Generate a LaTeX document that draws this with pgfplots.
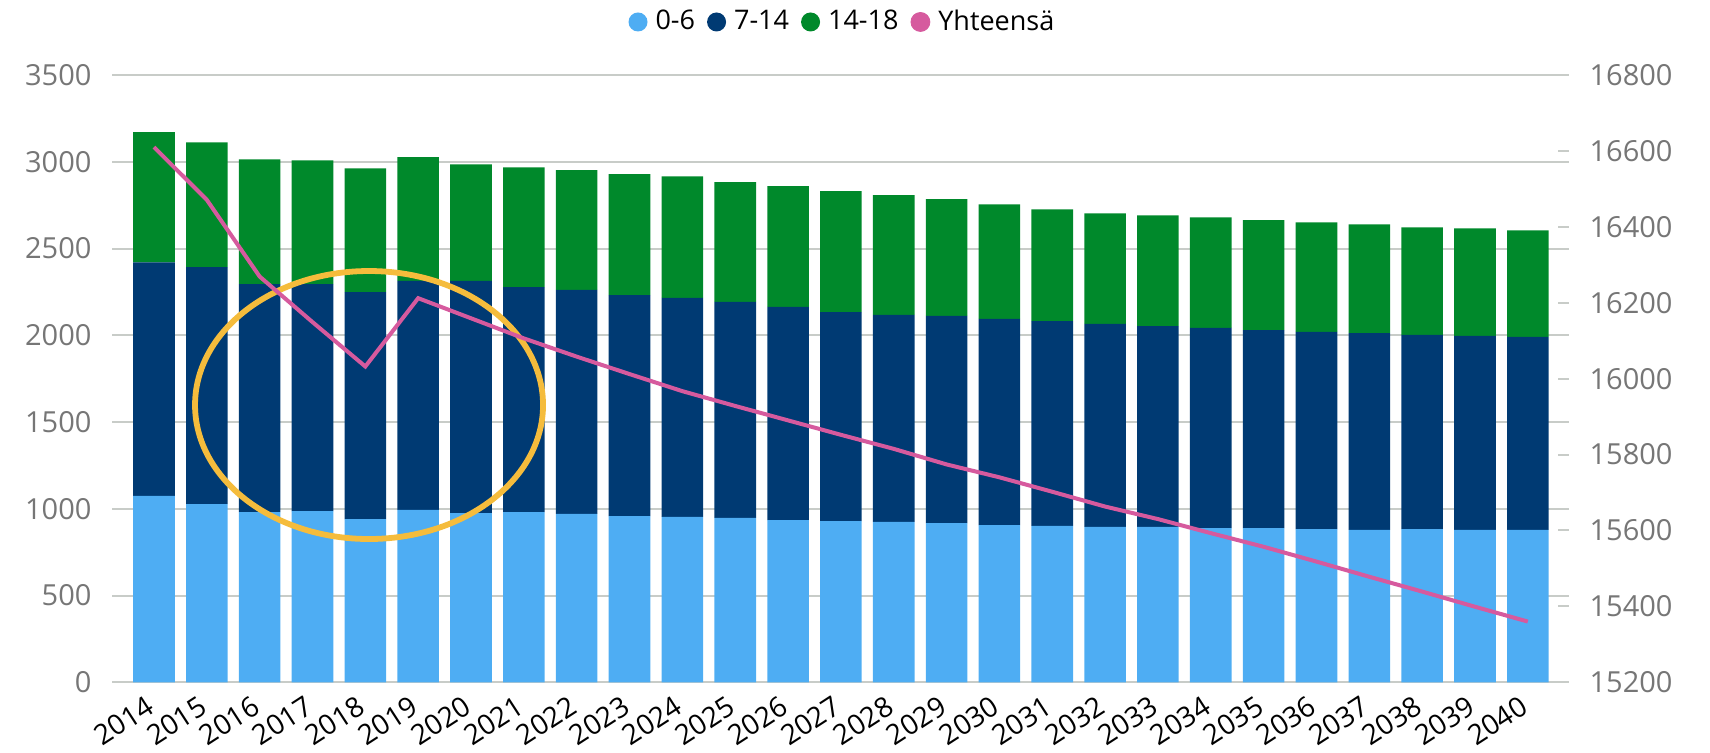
\documentclass[border=0pt]{standalone}
\usepackage{pgfplots}
\pgfplotsset{compat=1.18}
\usepackage{fontspec}
\setmainfont{Open Sans}
\definecolor{cA}{RGB}{78,173,243}
\definecolor{cB}{RGB}{0,58,115}
\definecolor{cC}{RGB}{0,137,43}
\definecolor{cP}{RGB}{214,90,158}
\definecolor{cO}{RGB}{245,188,60}
\definecolor{cGrid}{RGB}{200,204,200}
\definecolor{cTick}{RGB}{118,118,118}
\begin{document}
\fontsize{13}{15}\selectfont
\begin{tikzpicture}
\path[use as bounding box] (0,0) rectangle (855pt,376.5pt);
\begin{axis}[
  at={(56.25pt,35.35pt)}, anchor=south west,
  scale only axis, width=728pt, height=303.65pt,
  ybar stacked, bar width=20.8pt,
  xmin=-0.785, xmax=26.77,
  ymin=0, ymax=3500, ytick={0,500,...,3500},
  xtick={0,...,26},
  xticklabels={2014,2015,2016,2017,2018,2019,2020,2021,2022,2023,2024,2025,2026,2027,2028,2029,2030,2031,2032,2033,2034,2035,2036,2037,2038,2039,2040},
  xticklabel style={rotate=33, anchor=north east, text=black, font=\fontsize{14}{16}\selectfont, xshift=-6pt, yshift=-1.5pt, inner sep=1pt},
  yticklabel style={text=cTick, font=\fontsize{14.5}{16}\selectfont, xshift=-6pt},
  /pgf/number format/assume math mode=true,
  /pgf/number format/1000 sep={},
  scaled y ticks=false,
  ymajorgrids, grid style={color=cGrid, line width=1pt},
  axis line style={draw=none},
  tick style={draw=none},
  legend columns=4,
  legend style={draw=none, fill=none, at={(0.502,1.0873)}, anchor=center,
    font=\fontsize{13.5}{15}\selectfont,
    /tikz/every odd column/.style={column sep=2pt},
    /tikz/every even column/.style={column sep=4pt}},
  legend cell align=left,
  clip=false,
]
\addplot[fill=cA, draw=none, legend image code/.code={\fill[cA] (0.3cm,0) circle (4.75pt);}] coordinates {
(0,1074)(1,1027)(2,981)(3,987)(4,941)(5,993)(6,975)(7,981)(8,970)(9,958)(10,953)(11,947)(12,935)(13,929)(14,924)(15,918)(16,906)(17,901)(18,895)(19,895)(20,889)(21,889)(22,883)(23,878)(24,883)(25,878)(26,878)};
\addlegendentry{0-6}
\addplot[fill=cB, draw=none, legend image code/.code={\fill[cB] (0.3cm,0) circle (4.75pt);}] coordinates {
(0,1346)(1,1366)(2,1314)(3,1308)(4,1308)(5,1320)(6,1338)(7,1297)(8,1291)(9,1274)(10,1262)(11,1245)(12,1228)(13,1205)(14,1193)(15,1193)(16,1188)(17,1181)(18,1170)(19,1158)(20,1153)(21,1141)(22,1136)(23,1135)(24,1119)(25,1118)(26,1112)};
\addlegendentry{7-14}
\addplot[fill=cC, draw=none, legend image code/.code={\fill[cC] (0.3cm,0) circle (4.75pt);}] coordinates {
(0,750)(1,719)(2,719)(3,713)(4,713)(5,713)(6,672)(7,690)(8,690)(9,696)(10,701)(11,690)(12,696)(13,696)(14,690)(15,673)(16,661)(17,644)(18,638)(19,638)(20,638)(21,633)(22,632)(23,626)(24,620)(25,620)(26,615)};
\addlegendentry{14-18}
\addlegendimage{legend image code/.code={\fill[cP] (0.3cm,0) circle (4.75pt);}}
\addlegendentry{Yhteensä}
\end{axis}
\begin{axis}[
  at={(56.25pt,35.35pt)}, anchor=south west,
  scale only axis, width=728pt, height=303.65pt,
  xmin=-0.785, xmax=26.77,
  ymin=15200, ymax=16800, ytick={15200,15400,...,16800},
  axis y line*=right, axis x line=none,
  y axis line style={draw=none},
  yticklabel style={text=cTick, font=\fontsize{14.5}{16}\selectfont, xshift=6pt},
  /pgf/number format/assume math mode=true,
  /pgf/number format/1000 sep={},
  /pgf/number format/fixed,
  scaled y ticks=false,
  tick align=inside, major tick length=5.5pt,
  ytick style={color=cGrid, line width=1pt},
  clip=false,
]
\draw[cO, line width=2.9pt] (axis cs:4.07,15930.5) ellipse [x radius=87pt, y radius=67pt];
\addplot[cP, line width=2pt, mark=none] coordinates {
(0,16610)(1,16471)(2,16269)(3,16149)(4,16032)(5,16212)(6,16159)(7,16106)(8,16058)(9,16012)(10,15967)(11,15928)(12,15890)(13,15852)(14,15815)(15,15774)(16,15740)(17,15702)(18,15663)(19,15630)(20,15593)(21,15557)(22,15518)(23,15478)(24,15439)(25,15399)(26,15360)};
\end{axis}
\end{tikzpicture}
\end{document}
